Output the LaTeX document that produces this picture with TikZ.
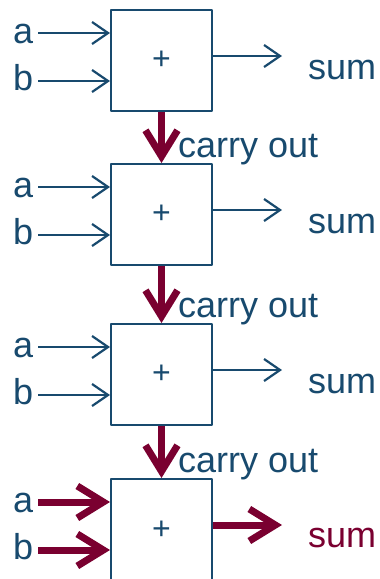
\documentclass[tikz,border=0pt]{standalone}
\usepackage{fontspec}
\setmainfont{Liberation Sans}
\usetikzlibrary{arrows.meta}
\definecolor{adderblue}{RGB}{24,74,110}
\definecolor{carryred}{RGB}{122,0,48}
\tikzset{
  adder/.style={draw=adderblue,line width=2pt,minimum width=101pt,minimum height=101pt,inner sep=0pt,anchor=north west,text=adderblue,font=\fontsize{32}{36}\selectfont},
  lbl/.style={anchor=base west,inner sep=0pt,text=adderblue,font=\fontsize{36}{40}\selectfont},
  wire/.style={draw=adderblue,line width=2.2pt,-{Straight Barb[length=16pt,width=22pt]}},
  bus/.style={draw=carryred,line width=7pt,-{Straight Barb[length=26pt,width=32pt]}}
}
\begin{document}
\begin{tikzpicture}[x=1pt,y=-1pt,line join=round]
  \useasboundingbox (0,0) rectangle (380,579);
  % the four adders
  \node[adder] (add1) at (110,9) {+};
  \node[adder] (add2) at (110,163) {+};
  \node[adder] (add3) at (110,323) {+};
  \node[adder,minimum height=103pt] (add4) at (110,478) {+};
  % stage 1
  \coordinate (a1s) at (38,33);\coordinate (b1s) at (38,81);\coordinate (s1e) at (282,56);
  \node[lbl] (a1) at (13,43) {a};
  \node[lbl] (b1) at (13,90) {b};
  \node[lbl] (s1) at (308,79) {sum};
  \draw[wire] (a1s)--(add1.west |- a1s);
  \draw[wire] (b1s)--(add1.west |- b1s);
  \draw[wire] (add1.east |- s1e)--(s1e);
  % stage 2
  \coordinate (a2s) at (38,187);\coordinate (b2s) at (38,235);\coordinate (s2e) at (282,210);
  \node[lbl] (a2) at (13,197) {a};
  \node[lbl] (b2) at (13,244) {b};
  \node[lbl] (s2) at (308,233) {sum};
  \draw[wire] (a2s)--(add2.west |- a2s);
  \draw[wire] (b2s)--(add2.west |- b2s);
  \draw[wire] (add2.east |- s2e)--(s2e);
  % stage 3
  \coordinate (a3s) at (38,347);\coordinate (b3s) at (38,395);\coordinate (s3e) at (282,370);
  \node[lbl] (a3) at (13,357) {a};
  \node[lbl] (b3) at (13,404) {b};
  \node[lbl] (s3) at (308,393) {sum};
  \draw[wire] (a3s)--(add3.west |- a3s);
  \draw[wire] (b3s)--(add3.west |- b3s);
  \draw[wire] (add3.east |- s3e)--(s3e);
  % stage 4
  \coordinate (a4s) at (38,502);\coordinate (b4s) at (38,550);\coordinate (s4e) at (282,525);
  \node[lbl] (a4) at (13,512) {a};
  \node[lbl] (b4) at (13,559) {b};
  \node[lbl,text=carryred] (s4) at (308,547) {sum};
  \draw[bus] (a4s)--(add4.west |- a4s);
  \draw[bus] (b4s)--(add4.west |- b4s);
  \draw[bus] (add4.east |- s4e)--(s4e);
  % carries
  \draw[bus] (add1.south)--(add2.north);
  \draw[bus] (add2.south)--(add3.north);
  \draw[bus] (add3.south)--(add4.north);
  \node[lbl] (c1) at (178,157) {carry out};
  \node[lbl] (c2) at (178,317) {carry out};
  \node[lbl] (c3) at (178,472) {carry out};
\end{tikzpicture}
\end{document}
